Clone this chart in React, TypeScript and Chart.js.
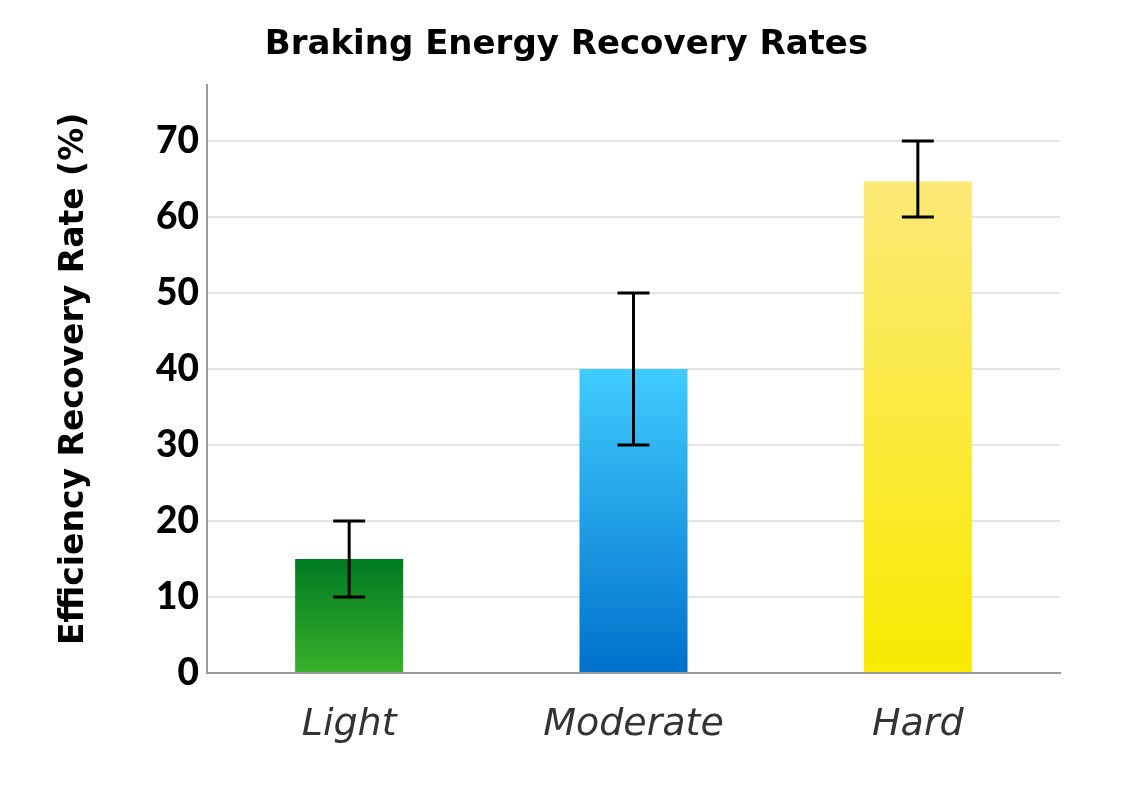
import React, { useEffect, useRef } from 'react';
import { Chart, registerables } from 'chart.js';

Chart.register(...registerables);

// data
const categories = ['Light', 'Moderate', 'Hard'];
const recoveryRates = [15, 40, 64.7];
const errorLow = [10, 30, 60];
const errorHigh = [20, 50, 70];
const yTicks = [0, 10, 20, 30, 40, 50, 60, 70];

// gradient stops per bar: [top, bottom]
const barGradients = [
  ['#007a22', '#38b12a'],
  ['#40ccff', '#0071cc'],
  ['#fce978', '#f8ea00'],
];

const FONT = 'Lato, "Noto Sans", sans-serif';
const WIDE = '"DejaVu Sans", sans-serif';

const errorBarPlugin = {
  id: 'errorBars',
  afterDatasetsDraw(chart) {
    const { ctx } = chart;
    const y = chart.scales.y;
    const meta = chart.getDatasetMeta(0);
    ctx.save();
    ctx.strokeStyle = '#000';
    ctx.lineWidth = 3;
    meta.data.forEach((bar, i) => {
      const x = bar.x;
      const top = y.getPixelForValue(errorHigh[i]);
      const bot = y.getPixelForValue(errorLow[i]);
      const half = 16;
      ctx.beginPath();
      ctx.moveTo(x, top);
      ctx.lineTo(x, bot);
      ctx.moveTo(x - half, top);
      ctx.lineTo(x + half, top);
      ctx.moveTo(x - half, bot);
      ctx.lineTo(x + half, bot);
      ctx.stroke();
    });
    ctx.restore();
  },
};

const App = () => {
  const chartRef = useRef(null);
  const chartInstance = useRef(null);

  useEffect(() => {
    if (chartInstance.current) {
      chartInstance.current.destroy();
    }
    const ctx = chartRef.current.getContext('2d');

    chartInstance.current = new Chart(ctx, {
      type: 'bar',
      data: {
        labels: categories,
        datasets: [
          {
            label: 'Recovery rate',
            data: recoveryRates,
            backgroundColor: (c) => {
              const chart = c.chart;
              const i = c.dataIndex;
              const stops = barGradients[i] || barGradients[0];
              if (!chart.chartArea || i === undefined) return stops[0];
              const ys = chart.scales.y;
              const g = chart.ctx.createLinearGradient(
                0,
                ys.getPixelForValue(recoveryRates[i]),
                0,
                ys.getPixelForValue(0)
              );
              g.addColorStop(0, stops[0]);
              g.addColorStop(1, stops[1]);
              return g;
            },
            borderWidth: 0,
            barPercentage: 0.38,
            categoryPercentage: 1,
          },
        ],
      },
      options: {
        responsive: false,
        animation: false,
        layout: { padding: 0 },
        plugins: {
          legend: { display: false },
          tooltip: { enabled: false },
          title: {
            display: true,
            text: 'Braking Energy Recovery Rates',
            color: '#000',
            font: { family: WIDE, size: 34, weight: 'bold' },
            padding: { top: 25, bottom: 19 },
          },
        },
        scales: {
          x: {
            grid: { display: false },
            border: { display: true, color: '#999', width: 2 },
            ticks: {
              color: '#333',
              padding: 21,
              font: { family: WIDE, size: 38, style: 'italic', weight: 300 },
            },
            afterFit: (s) => {
              s.height = 114;
            },
          },
          y: {
            min: 0,
            max: 77.4,
            afterBuildTicks: (s) => {
              s.ticks = yTicks.map((v) => ({ value: v }));
            },
            grid: {
              color: (c) => (c.tick && c.tick.value === 0 ? '#999' : '#e3e3e3'),
              lineWidth: 2,
              drawTicks: false,
            },
            border: { display: true, color: '#999', width: 2 },
            ticks: {
              color: '#000',
              padding: 8,
              font: { family: FONT, size: 37, weight: 900 },
            },
            title: {
              display: true,
              text: 'Efficiency Recovery Rate (%)',
              color: '#000',
              font: { family: WIDE, size: 33, weight: 'bold' },
              padding: { top: 55, bottom: 0 },
            },
            afterFit: (s) => {
              s.width = 207;
            },
          },
          spacer: {
            type: 'linear',
            position: 'right',
            grid: { display: false },
            border: { display: false },
            ticks: { display: false },
            afterFit: (s) => {
              s.width = 73;
            },
          },
        },
      },
      plugins: [errorBarPlugin],
    });

    return () => {
      if (chartInstance.current) {
        chartInstance.current.destroy();
        chartInstance.current = null;
      }
    };
  }, []);

  return (
    <div style={{ position: 'absolute', left: 0, top: 0, width: 1133, height: 787, background: '#fff' }}>
      <canvas ref={chartRef} width={1133} height={787}></canvas>
    </div>
  );
};

export default App;
